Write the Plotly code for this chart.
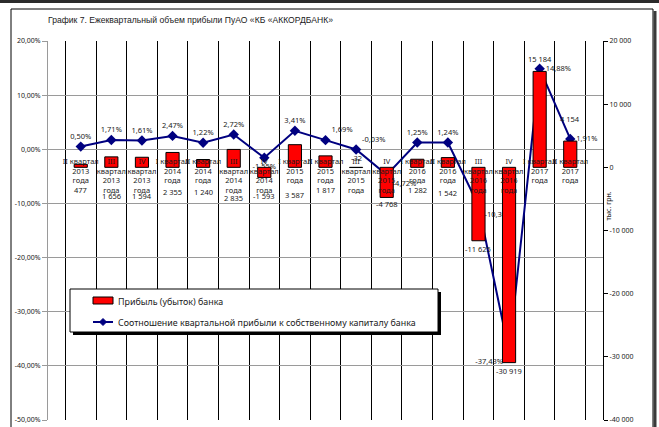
import plotly.graph_objects as go

# ---------------- data ----------------
quarters = ["II", "III", "IV", "I", "II", "III", "IV", "I", "II", "III", "IV",
            "I", "II", "III", "IV", "I", "II"]
years = [2013, 2013, 2013, 2014, 2014, 2014, 2014, 2015, 2015, 2015, 2015,
         2016, 2016, 2016, 2016, 2017, 2017]
profit = [477, 1656, 1594, 2355, 1240, 2835, -1593, 3587, 1817, -32, -4768,
          1282, 1542, -11625, -30919, 15184, 4154]  # тыс. грн.
ratio_pct = [0.50, 1.71, 1.61, 2.47, 1.22, 2.72, -1.55, 3.41, 1.69, -0.03, -4.72,
             1.25, 1.24, -10.36, -37.43, 14.88, 1.91]  # %

left_tick_vals = [-0.5, -0.4, -0.3, -0.2, -0.1, 0.0, 0.1, 0.2]
left_tick_text = ["-50,00%", "-40,00%", "-30,00%", "-20,00%", "-10,00%",
                  "0,00%", "10,00%", "20,00%"]
right_tick_vals = [-40000, -30000, -20000, -10000, 0, 10000, 20000]
right_tick_text = ["-40 000", "-30 000", "-20 000", "-10 000", "0",
                   "10 000", "20 000"]

title_text = "График 7. Ежеквартальный объем прибыли ПуАО «КБ «АККОРДБАНК»"
legend_bar = "Прибыль (убыток) банка"
legend_line = "Соотношение квартальной прибыли к собственному капиталу банка"
unit_text = "тыс. грн."

# ---------------- layout / styles ----------------
W, H = 659, 427
L, R, T, B = 48, 603, 41, 420
FONT = "Noto Sans"
TITLE_FONT = "Liberation Sans"
TXT = "#1a1a1a"

point_text_pos = ["top center", "top center", "top center", "top center", "top center",
                  "top center", "bottom center", "top center", "top right", "top right",
                  "bottom right", "top center", "top center", "bottom right",
                  "bottom left", "middle right", "middle right"]
# vertical offset (px, downward) of each bar value label from the bar end
bar_label_dy = [26, 39.5, 39, 40, 32.5, 49, 19, 50.7, 34, -10, 7, 30.4, 35, 8, 8, -12, -22]


def cat_label(q, y):
    if q in ("I", "II"):
        return f"{q} квартал<br>{y}<br>года"
    return f"{q}<br>квартал<br>{y}<br>года"


cats = [cat_label(q, y) for q, y in zip(quarters, years)]
ratio = [v / 100 for v in ratio_pct]
ratio_text = [f"{v:.2f}".replace(".", ",") + "%" for v in ratio_pct]


def fmt_int(v):
    return f"{v:,}".replace(",", " ")


def px(x):
    return (x - L) / (R - L)


def py(y):
    return (B - y) / (B - T)


fig = go.Figure()

fig.add_trace(go.Bar(
    x=cats, y=profit, yaxis="y2", name=legend_bar,
    marker=dict(color="#FF0000", line=dict(color="#000000", width=1)),
    width=0.43, showlegend=False, hoverinfo="skip",
))

fig.add_trace(go.Scatter(
    x=cats, y=ratio, yaxis="y", name=legend_line, mode="lines+markers+text",
    line=dict(color="#000080", width=2),
    marker=dict(symbol="diamond", size=8, color="#000080"),
    text=ratio_text, textposition=point_text_pos,
    textfont=dict(family=FONT, size=7.5, color=TXT),
    showlegend=False, hoverinfo="skip", cliponaxis=False,
))

annotations = []
for c, v, dy in zip(cats, profit, bar_label_dy):
    annotations.append(dict(
        x=c, y=v, xref="x", yref="y2", text=fmt_int(v), showarrow=False,
        yshift=-dy, font=dict(family=FONT, size=7.5, color=TXT),
    ))

# unit label of right axis
annotations.append(dict(
    x=px(614), y=py(206), xref="paper", yref="paper", text=unit_text,
    textangle=-90, showarrow=False, font=dict(family=FONT, size=7, color=TXT),
))
# legend texts
annotations.append(dict(
    x=px(116), y=py(301), xref="paper", yref="paper", text=legend_bar,
    xanchor="left", yanchor="middle", showarrow=False,
    font=dict(family=FONT, size=8.9, color=TXT),
))
annotations.append(dict(
    x=px(116), y=py(322), xref="paper", yref="paper", text=legend_line,
    xanchor="left", yanchor="middle", showarrow=False,
    font=dict(family=FONT, size=8.9, color=TXT),
))

shapes = []
# outer frame
shapes.append(dict(type="line", xref="paper", yref="paper",
                   x0=px(0), x1=px(W), y0=py(1.5), y1=py(1.5),
                   line=dict(color="#2b2b2b", width=3), layer="above"))
shapes.append(dict(type="rect", xref="paper", yref="paper",
                   x0=px(11), x1=px(653), y0=py(9), y1=py(440),
                   line=dict(color="#000000", width=1), layer="above"))
shapes.append(dict(type="line", xref="paper", yref="paper",
                   x0=px(655), x1=px(655), y0=py(11), y1=py(440),
                   line=dict(color="#3a3a3a", width=3), layer="above"))
# legend box with shadow
shapes.append(dict(type="rect", xref="paper", yref="paper",
                   x0=px(73), x1=px(441), y0=py(292), y1=py(335),
                   line=dict(width=0), fillcolor="#000000", layer="above"))
shapes.append(dict(type="rect", xref="paper", yref="paper",
                   x0=px(70), x1=px(438), y0=py(289), y1=py(332),
                   line=dict(color="#000000", width=1), fillcolor="#FFFFFF", layer="above"))
# legend symbols
shapes.append(dict(type="rect", xref="paper", yref="paper",
                   x0=px(93), x1=px(113), y0=py(297), y1=py(304),
                   line=dict(color="#000000", width=1), fillcolor="#FF0000", layer="above"))
shapes.append(dict(type="line", xref="paper", yref="paper",
                   x0=px(93), x1=px(113), y0=py(322), y1=py(322),
                   line=dict(color="#000080", width=2), layer="above"))
dx, dyy, cx, cy = 3.5, 3.5, 103, 322
shapes.append(dict(type="path", xref="paper", yref="paper",
                   path=(f"M {px(cx - dx)} {py(cy)} L {px(cx)} {py(cy - dyy)} "
                         f"L {px(cx + dx)} {py(cy)} L {px(cx)} {py(cy + dyy)} Z"),
                   line=dict(color="#000080", width=1), fillcolor="#000080", layer="above"))

y_min, y_max = -0.5, 0.2

fig.update_layout(
    width=W, height=H,
    margin=dict(l=L, r=W - R, t=T, b=H - B, autoexpand=False),
    paper_bgcolor="#FFFFFF", plot_bgcolor="#FFFFFF",
    font=dict(family=FONT, color=TXT),
    title=dict(text=title_text, x=0, xref="paper", xanchor="left",
               y=1 - 20 / H, yref="container", yanchor="middle",
               font=dict(family=TITLE_FONT, size=8.6, color=TXT)),
    bargap=0.57,
    xaxis=dict(
        type="category", anchor="free", position=(0 - y_min) / (y_max - y_min),
        tickson="boundaries", showgrid=True, gridcolor="#000000", gridwidth=1,
        showline=False, ticks="", ticklabelstandoff=6,
        tickfont=dict(family=FONT, size=7.5, color=TXT), tickangle=0,
        automargin=False, zeroline=False,
    ),
    yaxis=dict(
        range=[y_min, y_max], tickvals=left_tick_vals, ticktext=left_tick_text,
        showgrid=True, gridcolor="#9a9a9a", gridwidth=1, zeroline=False,
        showline=True, linecolor="#9a9a9a", ticks="outside", ticklen=5,
        tickcolor="#9a9a9a", tickfont=dict(family=FONT, size=7, color=TXT),
        automargin=False,
    ),
    yaxis2=dict(
        range=[-40000, 20000], tickvals=right_tick_vals, ticktext=right_tick_text,
        overlaying="y", side="right", showgrid=False, zeroline=False,
        showline=True, linecolor="#000000", ticks="outside", ticklen=4,
        tickcolor="#000000", tickfont=dict(family=FONT, size=7, color=TXT),
        automargin=False,
    ),
    annotations=annotations,
    shapes=shapes,
    showlegend=False,
)

fig.write_html("out.html", config={"displayModeBar": False},
               post_script="document.body.style.margin='0';")
